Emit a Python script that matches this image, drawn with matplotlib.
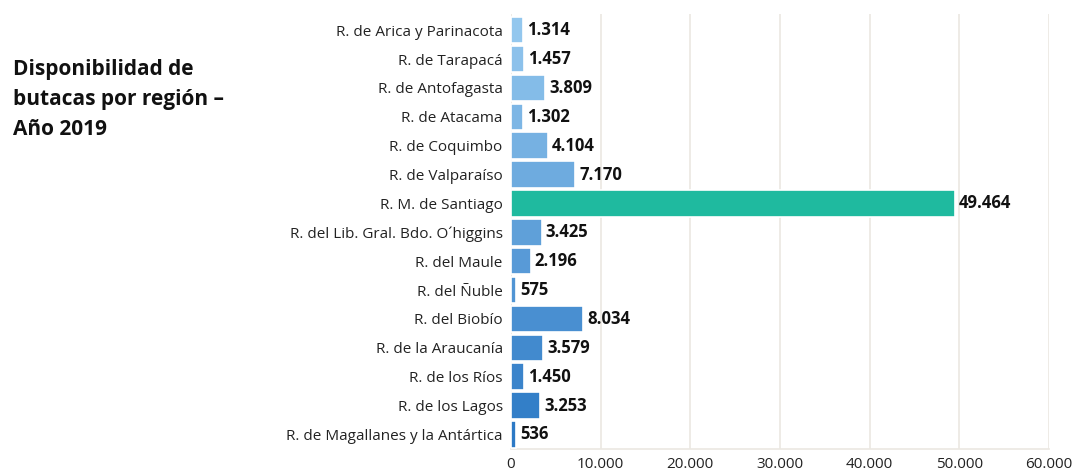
import matplotlib.pyplot as plt
import matplotlib.colors as mcolors
import numpy as np

regiones = ['R. de Arica y Parinacota', 'R. de Tarapacá', 'R. de Antofagasta', 'R. de Atacama',
            'R. de Coquimbo', 'R. de Valparaíso', 'R. M. de Santiago',
            'R. del Lib. Gral. Bdo. O´higgins', 'R. del Maule', 'R. del Ñuble', 'R. del Biobío',
            'R. de la Araucanía', 'R. de los Ríos', 'R. de los Lagos',
            'R. de Magallanes y la Antártica']
butacas = [1314, 1457, 3809, 1302, 4104, 7170, 49464, 3425, 2196, 575, 8034, 3579, 1450, 3253, 536]
destacada = 'R. M. de Santiago'

plt.rcParams['font.family'] = ['Open Sans', 'DejaVu Sans']

fig = plt.figure(figsize=(10.84, 4.76), dpi=100)
ax = fig.add_axes([0.4714, 0.057, 0.4963, 0.913])

grad = mcolors.LinearSegmentedColormap.from_list('g', ['#93c7ee', '#2c79c5'])
n = len(regiones)
colores = [('#1fba9f' if r == destacada else grad(i / (n - 1))) for i, r in enumerate(regiones)]

y = np.arange(n)
ax.barh(y, butacas, height=0.92, color=colores, edgecolor='white', linewidth=1.2, zorder=3)
for yi, v in zip(y, butacas):
    ax.text(v + 450, yi, f'{v:,}'.replace(',', '.'), va='center', ha='left',
            fontsize=12, fontweight='bold', color='#111111', zorder=4)

ax.set_yticks(y)
ax.set_yticklabels(regiones, fontsize=11, color='#222222')
ax.set_ylim(n - 0.5, -0.55)
ax.set_xlim(0, 60000)
ticks = np.arange(0, 60001, 10000)
ax.set_xticks(ticks)
ax.set_xticklabels([f'{t:,}'.replace(',', '.') for t in ticks], fontsize=11, color='#222222')
ax.tick_params(length=0, pad=6)
ax.grid(axis='x', color='#ebe8e2', linewidth=1.2, zorder=0)
for s in ['top', 'right', 'left']:
    ax.spines[s].set_visible(False)
ax.spines['bottom'].set_color('#ebe8e2')
ax.spines['bottom'].set_linewidth(1.2)

fig.text(0.012, 0.875, 'Disponibilidad de\nbutacas por región –\nAño 2019', fontsize=15,
         fontweight='bold', color='#111111', va='top', ha='left', linespacing=1.55)

fig.savefig('out.png', dpi=100)
